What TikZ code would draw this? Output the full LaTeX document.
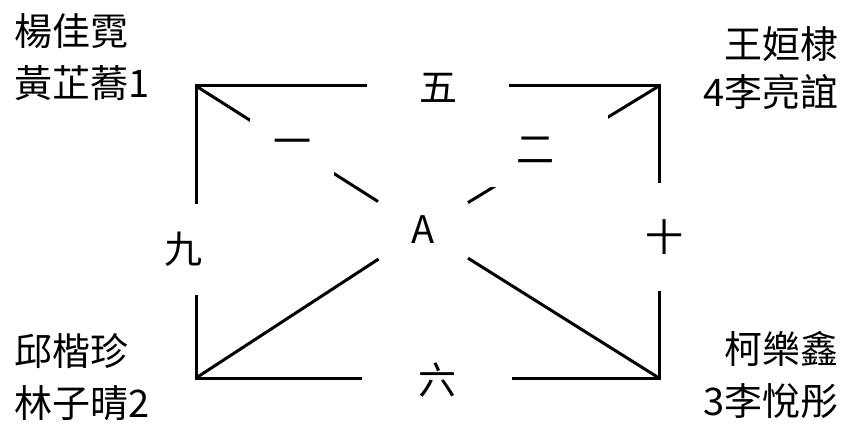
\documentclass[tikz,border=0pt]{standalone}
\usepackage{fontspec}
\setmainfont{Noto Sans CJK TC}
\usepackage{tikz}
\usetikzlibrary{positioning}

\begin{document}
\begin{tikzpicture}[
    x=1pt, y=-1pt,
    line width=3pt,
    font=\fontsize{38}{52}\selectfont
  ]

  % Styles for the seating chart
  \tikzset{
    seatlab/.style={fill=white, inner sep=0pt, align=center},
    person/.style={inner sep=0pt},
    hub/.style={fill=white, inner sep=0pt, minimum width=87pt, minimum height=55pt}
  }

  \useasboundingbox (0,0) rectangle (850,425);

  % Corners of the table
  \coordinate (tl) at (196,86);
  \coordinate (tr) at (659,86);
  \coordinate (bl) at (196,378);
  \coordinate (br) at (659,378);

  % Centre
  \node (a) [hub] at (423,230) {A};

  % Outer frame and spokes
  \draw (tl) -- (tr) -- (br) -- (bl) -- cycle;
  \draw (tl) -- (a);
  \draw (tr) -- (a);
  \draw (bl) -- (a);
  \draw (br) -- (a);

  % Seat labels, each cutting a gap in its line
  \node (five) [seatlab, minimum width=142pt, minimum height=40pt] at (438,88)  {五};
  \node (six)  [seatlab, minimum width=150pt, minimum height=40pt] at (437,380) {六};
  \node (nine) [seatlab, minimum width=46pt,  minimum height=91pt] at (183,249) {九};
  \node (ten)  [seatlab, minimum width=46pt,  minimum height=108pt] at (664,237) {十};
  \node (one)  [seatlab, minimum width=84pt,  minimum height=57pt] at (292,147) {一};
  \node (two)  [seatlab, minimum width=146pt, minimum height=73pt] at (535,150) {二};

  % Names at the corners
  \node (nw) [person, anchor=west, align=left]  at (13,57)  {楊佳霓\\黃芷蕎1};
  \node (ne) [person, anchor=east, align=right, font=\fontsize{38}{48}\selectfont] at (840,68) {王姮棣\\4李亮誼};
  \node (sw) [person, anchor=west, align=left]  at (13,377) {邱楷珍\\林子晴2};
  \node (se) [person, anchor=east, align=right] at (840,375) {柯樂鑫\\3李悅彤};

\end{tikzpicture}
\end{document}
